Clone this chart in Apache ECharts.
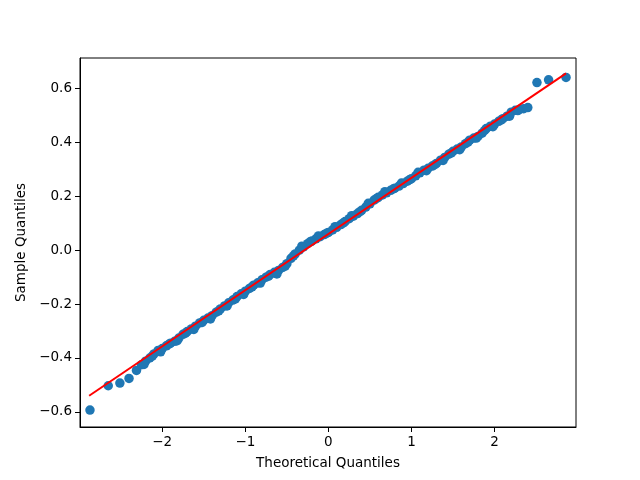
<!DOCTYPE html>
<html>
<head>
<meta charset="utf-8">
<script src="https://cdn.jsdelivr.net/npm/echarts@6/dist/echarts.min.js"></script>
<style>
  html, body { margin: 0; padding: 0; background: #fff; }
  #ct { width: 640px; height: 480px; }
</style>
</head>
<body>
<div id="ct"></div>
<script>
// theoretical quantiles (x) and sample quantiles (y)
const theoretical = [
  -2.87, -2.65, -2.51, -2.40, -2.31, -2.25, -2.20, -2.15, -2.10, -2.05,
  -2.00, -1.95, -1.90, -1.85, -1.80, -1.75, -1.70, -1.65, -1.60, -1.55,
  -1.50, -1.45, -1.40, -1.35, -1.30, -1.25, -1.20, -1.15, -1.10, -1.05,
  -1.00, -0.95, -0.90, -0.85, -0.80, -0.75, -0.70, -0.65, -0.60, -0.55,
  -0.50, -0.45, -0.40, -0.35, -0.30, -0.25, -0.20, -0.15, -0.10, -0.05,
  0.00, 0.05, 0.10, 0.15, 0.20, 0.25, 0.30, 0.35, 0.40, 0.45,
  0.50, 0.55, 0.60, 0.65, 0.70, 0.75, 0.80, 0.85, 0.90, 0.95,
  1.00, 1.05, 1.10, 1.15, 1.20, 1.25, 1.30, 1.35, 1.40, 1.45,
  1.50, 1.55, 1.60, 1.65, 1.70, 1.75, 1.80, 1.85, 1.90, 1.95,
  2.00, 2.05, 2.10, 2.15, 2.20, 2.25, 2.30, 2.35, 2.40, 2.51,
  2.65, 2.86
];
const sample = [
  -0.593, -0.503, -0.493, -0.476, -0.446, -0.425, -0.412, -0.400, -0.385, -0.372,
  -0.365, -0.355, -0.345, -0.338, -0.326, -0.312, -0.302, -0.292, -0.282, -0.270,
  -0.260, -0.252, -0.243, -0.230, -0.218, -0.207, -0.195, -0.185, -0.172, -0.162,
  -0.152, -0.142, -0.130, -0.121, -0.110, -0.100, -0.090, -0.082, -0.075, -0.064,
  -0.050, -0.030, -0.014, 0.000, 0.012, 0.024, 0.034, 0.042, 0.050, 0.058,
  0.066, 0.075, 0.085, 0.095, 0.106, 0.117, 0.126, 0.136, 0.148, 0.160,
  0.172, 0.186, 0.196, 0.205, 0.213, 0.222, 0.230, 0.238, 0.247, 0.256,
  0.265, 0.276, 0.287, 0.297, 0.304, 0.312, 0.322, 0.334, 0.344, 0.356,
  0.367, 0.375, 0.383, 0.395, 0.408, 0.416, 0.422, 0.434, 0.451, 0.460,
  0.468, 0.478, 0.488, 0.497, 0.512, 0.519, 0.522, 0.525, 0.529, 0.622,
  0.632, 0.641
];
// extra points in the dense middle
const theoreticalMid = [
  -2.22, -2.12, -2.02, -1.92, -1.82, -1.72, -1.62, -1.52, -1.42, -1.32,
  -1.22, -1.12, -1.02, -0.92, -0.82, -0.72, -0.62, -0.52, -0.42, -0.32,
  -0.22, -0.12, -0.02, 0.08, 0.18, 0.28, 0.38, 0.48, 0.58, 0.68,
  0.78, 0.88, 0.98, 1.08, 1.18, 1.28, 1.38, 1.48, 1.58, 1.68,
  1.78, 1.88, 1.98, 2.08, 2.18, 2.28
];
const sampleMid = [
  -0.424, -0.393, -0.377, -0.349, -0.336, -0.308, -0.294, -0.268, -0.255, -0.225,
  -0.207, -0.181, -0.164, -0.136, -0.122, -0.096, -0.088, -0.059, -0.021, 0.015,
  0.031, 0.053, 0.063, 0.087, 0.101, 0.128, 0.143, 0.174, 0.192, 0.217,
  0.227, 0.249, 0.262, 0.289, 0.295, 0.317, 0.333, 0.361, 0.373, 0.401,
  0.416, 0.444, 0.458, 0.483, 0.497, 0.518
];
// reference line end points
const lineX = [-2.88, 2.86];
const lineY = [-0.540, 0.656];

const xTicks = [-2, -1, 0, 1, 2];
const yTicks = [-0.6, -0.4, -0.2, 0.0, 0.2, 0.4, 0.6];

const fmt = (v, d) => (v < -1e-9 ? "\u2212" : "") + Math.abs(v).toFixed(d);

const chart = echarts.init(document.getElementById("ct"));
const font = "DejaVu Sans";
const pts = theoretical.map((x, i) => [x, sample[i]])
  .concat(theoreticalMid.map((x, i) => [x, sampleMid[i]]));

const option = {
  animation: false,
  backgroundColor: "#fff",
  textStyle: { fontFamily: font },
  grid: {
    left: 80, right: 64, top: 58, bottom: 53,
    show: true, borderColor: "#000", borderWidth: 1
  },
  xAxis: {
    type: "value",
    min: -2.99, max: 2.98,
    name: "Theoretical Quantiles",
    nameLocation: "middle",
    nameGap: 29,
    nameTextStyle: { fontSize: 13.5, color: "#000", fontFamily: font },
    axisLine: { show: true, onZero: false, lineStyle: { color: "#000" } },
    axisTick: { show: true, length: 5, lineStyle: { color: "#000" }, customValues: xTicks },
    axisLabel: {
      fontSize: 13.5, color: "#000", margin: 8, fontFamily: font,
      customValues: xTicks,
      formatter: v => fmt(v, 0)
    },
    splitLine: { show: false }
  },
  yAxis: {
    type: "value",
    min: -0.656, max: 0.713,
    name: "Sample Quantiles",
    nameLocation: "middle",
    nameGap: 51,
    nameTextStyle: { fontSize: 13.5, color: "#000", fontFamily: font },
    axisLine: { show: true, onZero: false, lineStyle: { color: "#000" } },
    axisTick: { show: true, length: 5, lineStyle: { color: "#000" }, customValues: yTicks },
    axisLabel: {
      fontSize: 13.5, color: "#000", margin: 8, fontFamily: font,
      customValues: yTicks,
      formatter: v => fmt(v, 1)
    },
    splitLine: { show: false }
  },
  series: [
    {
      type: "scatter",
      symbolSize: 9.5,
      itemStyle: { color: "#1f77b4", opacity: 1 },
      data: pts,
      z: 2
    },
    {
      type: "line",
      symbol: "none",
      lineStyle: { color: "#ff0000", width: 2 },
      data: lineX.map((x, i) => [x, lineY[i]]),
      z: 3
    }
  ]
};
chart.setOption(option);
</script>
</body>
</html>
